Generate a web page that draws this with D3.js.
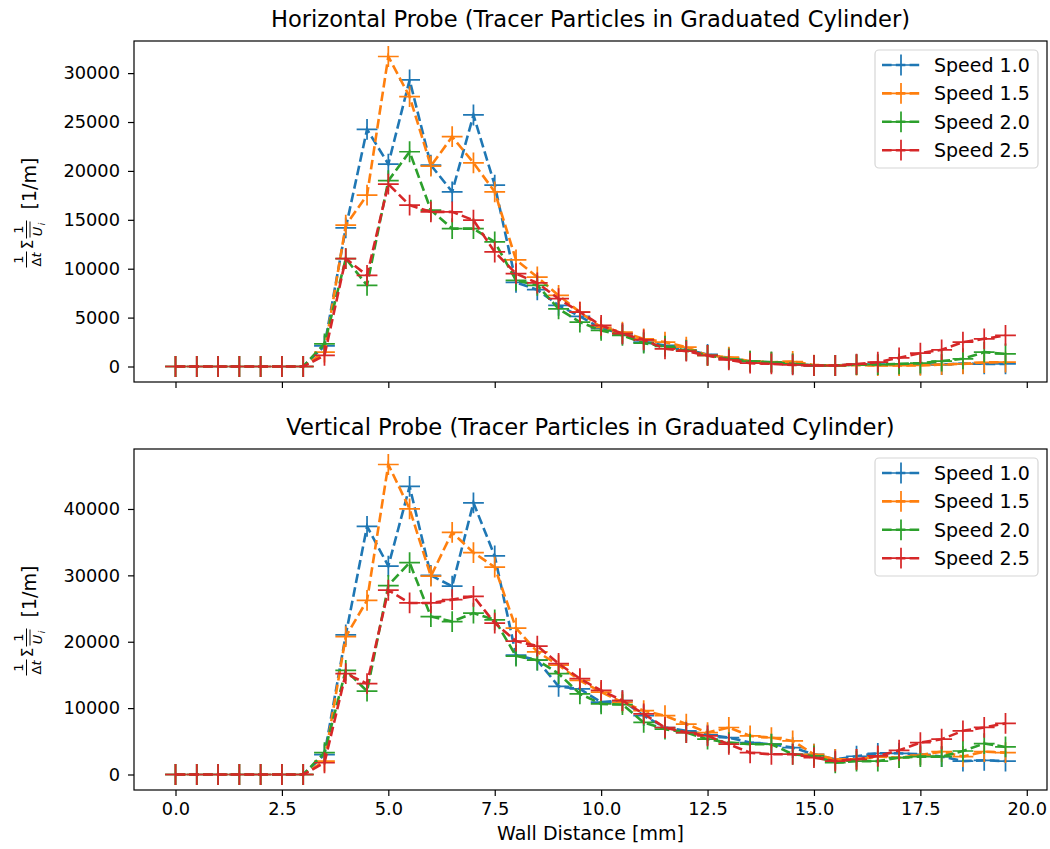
<!DOCTYPE html>
<html>
<head>
<meta charset="utf-8">
<script src="https://cdn.jsdelivr.net/npm/d3@7"></script>
<style>
  body { margin: 0; background: #fff; }
  svg { font-family: "DejaVu Sans", sans-serif; }
</style>
</head>
<body>
<div id="chart"></div>
<script>
// wall distance in mm
const wallDistance = [0, 0.5, 1.0, 1.5, 2.0, 2.5, 3.0, 3.5, 4.0, 4.5, 5.0, 5.5, 6.0, 6.5, 7.0, 7.5,
  8.0, 8.5, 9.0, 9.5, 10.0, 10.5, 11.0, 11.5, 12.0, 12.5, 13.0, 13.5, 14.0, 14.5, 15.0, 15.5,
  16.0, 16.5, 17.0, 17.5, 18.0, 18.5, 19.0, 19.5];

const speedLabels = ['Speed 1.0', 'Speed 1.5', 'Speed 2.0', 'Speed 2.5'];
const speedColors = ['#1f77b4', '#ff7f0e', '#2ca02c', '#d62728'];

// horizontal probe
const horizSpeed10 = [0, 0, 0, 0, 0, 0, 0, 2100, 14170, 24250, 20700, 29300, 20600, 17860, 25720, 18550,
  8600, 7850, 6250, 5130, 3900, 3350, 2500, 2150, 1710, 1230, 880, 510, 440, 270, 100, 100,
  200, 200, 200, 200, 200, 300, 270, 270];
const horizSpeed15 = [0, 0, 0, 0, 0, 0, 0, 1470, 14450, 17520, 31700, 27600, 20500, 23500, 20830, 17860,
  10900, 9150, 7270, 5560, 4000, 3520, 2830, 2490, 1980, 1130, 950, 540, 440, 510, 150, 100,
  150, 100, 100, 120, 200, 270, 410, 440];
const horizSpeed20 = [0, 0, 0, 0, 0, 0, 0, 2320, 11030, 8300, 19000, 21960, 16000, 14100, 14100, 12740,
  8810, 8300, 5900, 4540, 3690, 3180, 2390, 2050, 1640, 1130, 780, 540, 440, 270, 100, 100,
  200, 200, 270, 340, 550, 790, 1470, 1300];
const horizSpeed25 = [0, 0, 0, 0, 0, 0, 0, 1130, 11030, 9320, 18650, 16500, 15810, 15810, 14960, 11710,
  9500, 8540, 6930, 5560, 4200, 3350, 2730, 1810, 1570, 1130, 680, 340, 270, 170, 100, 100,
  250, 440, 890, 1370, 1710, 2490, 2830, 3180];

// vertical probe
const vertSpeed10 = [0, 0, 0, 0, 0, 0, 0, 3000, 21020, 37390, 31400, 43400, 29990, 28360, 40930, 32920,
  17980, 17220, 13270, 12900, 10890, 11140, 8860, 7080, 6580, 5980, 5560, 4810, 4560, 4050, 3050, 2280,
  2750, 3190, 3190, 3040, 2700, 2020, 2130, 2020];
const vertSpeed15 = [0, 0, 0, 0, 0, 0, 0, 2020, 20760, 26230, 46700, 40010, 29880, 36470, 33430, 31250,
  22040, 18480, 16470, 14190, 12410, 10880, 9620, 8860, 7600, 6320, 7080, 5820, 5560, 5060, 3050, 2280,
  2280, 2700, 2530, 2930, 3440, 2700, 3440, 3290];
const vertSpeed20 = [0, 0, 0, 0, 0, 0, 0, 3290, 15700, 12550, 28470, 31920, 23800, 23040, 24320, 23300,
  17850, 17220, 15200, 12160, 10640, 10540, 7840, 6830, 6320, 5320, 4810, 4560, 4560, 3050, 2790, 1770,
  2020, 2020, 2530, 2700, 2700, 3540, 4660, 4150];
const vertSpeed25 = [0, 0, 0, 0, 0, 0, 0, 1770, 15200, 13680, 27760, 25840, 25840, 26340, 26840, 22800,
  20100, 19350, 16720, 14440, 12660, 11140, 9120, 7080, 6320, 5820, 4560, 3280, 3050, 3050, 2530, 2020,
  2280, 2790, 3650, 4810, 5320, 6580, 7090, 7700];

const xTicks = [0, 2.5, 5, 7.5, 10, 12.5, 15, 17.5, 20];
const yTicksHoriz = [0, 5000, 10000, 15000, 20000, 25000, 30000];
const yTicksVert = [0, 10000, 20000, 30000, 40000];

const width = 1050;
const height = 849;
const left = 134;
const right = 1047;
const panelHeight = 341;
const tickFs = 17.8;
const labelFs = 19;
const titleFs = 22.6;

const panels = [
  { title: 'Horizontal Probe (Tracer Particles in Graduated Cylinder)', top: 41,
    series: [horizSpeed10, horizSpeed15, horizSpeed20, horizSpeed25], yTicks: yTicksHoriz, showX: false },
  { title: 'Vertical Probe (Tracer Particles in Graduated Cylinder)', top: 449,
    series: [vertSpeed10, vertSpeed15, vertSpeed20, vertSpeed25], yTicks: yTicksVert, showX: true }
];

const svg = d3.select('#chart')
  .append('svg')
  .attr('width', width)
  .attr('height', height);

const xPad = 0.05 * (d3.max(wallDistance) - d3.min(wallDistance));
const xScale = d3.scaleLinear()
  .domain([d3.min(wallDistance) - xPad, d3.max(wallDistance) + xPad])
  .range([left, right]);

function drawYLabel(cx, cy) {
  const g = svg.append('g')
    .attr('transform', `translate(${cx},${cy}) rotate(-90)`)
    .attr('fill', '#000');
  const s = -56;
  // 1 / Δt
  g.append('text').attr('x', s + 8).attr('y', -6).attr('text-anchor', 'middle')
    .attr('font-size', 13).text('1');
  g.append('line').attr('x1', s).attr('x2', s + 16).attr('y1', -2.5).attr('y2', -2.5)
    .attr('stroke', '#000').attr('stroke-width', 1);
  const d1 = g.append('text').attr('x', s + 8).attr('y', 12).attr('text-anchor', 'middle')
    .attr('font-size', 13);
  d1.append('tspan').text('Δ');
  d1.append('tspan').attr('font-style', 'italic').text('t');
  // sum
  g.append('text').attr('x', s + 23).attr('y', 4).attr('text-anchor', 'middle')
    .attr('font-size', 15).text('Σ');
  // 1 / overline U_i
  g.append('text').attr('x', s + 38).attr('y', -6).attr('text-anchor', 'middle')
    .attr('font-size', 13).text('1');
  g.append('line').attr('x1', s + 29).attr('x2', s + 47).attr('y1', -2.5).attr('y2', -2.5)
    .attr('stroke', '#000').attr('stroke-width', 1);
  g.append('text').attr('x', s + 36).attr('y', 13).attr('text-anchor', 'middle')
    .attr('font-size', 13).attr('font-style', 'italic').text('U');
  g.append('text').attr('x', s + 43.5).attr('y', 16).attr('text-anchor', 'middle')
    .attr('font-size', 9).attr('font-style', 'italic').text('i');
  g.append('line').attr('x1', s + 30).attr('x2', s + 46).attr('y1', 1).attr('y2', 1)
    .attr('stroke', '#000').attr('stroke-width', 0.9);
  g.append('text').attr('x', s + 58).attr('y', 7).attr('font-size', labelFs).text('[1/m]');
}

panels.forEach(p => {
  const bottom = p.top + panelHeight;
  const all = p.series.flat();
  const lo = d3.min(all);
  const hi = d3.max(all);
  const yPad = 0.05 * (hi - lo);
  const yScale = d3.scaleLinear()
    .domain([lo - yPad, hi + yPad])
    .range([bottom, p.top]);

  const g = svg.append('g');

  // axes
  const yAxis = d3.axisLeft(yScale)
    .tickValues(p.yTicks)
    .tickSize(6)
    .tickPadding(8)
    .tickFormat(d3.format('d'));
  const ya = g.append('g')
    .attr('transform', `translate(${left},0)`)
    .call(yAxis);
  ya.select('.domain').remove();
  ya.selectAll('line').attr('stroke', '#000').attr('stroke-width', 1.2);
  ya.selectAll('text').attr('font-size', tickFs).attr('fill', '#000')
    .attr('font-family', '"DejaVu Sans", sans-serif');

  const xAxis = d3.axisBottom(xScale)
    .tickValues(xTicks)
    .tickSize(6)
    .tickPadding(6)
    .tickFormat(p.showX ? d3.format('.1f') : '');
  const xa = g.append('g')
    .attr('transform', `translate(0,${bottom})`)
    .call(xAxis);
  xa.select('.domain').remove();
  xa.selectAll('line').attr('stroke', '#000').attr('stroke-width', 1.2);
  xa.selectAll('text').attr('font-size', tickFs).attr('fill', '#000')
    .attr('font-family', '"DejaVu Sans", sans-serif');

  // clip for data
  const clipId = 'clip' + p.top;
  svg.append('clipPath').attr('id', clipId)
    .append('rect').attr('x', left).attr('y', p.top)
    .attr('width', right - left).attr('height', panelHeight);

  const plot = g.append('g').attr('clip-path', `url(#${clipId})`);
  const line = d3.line()
    .x((d, i) => xScale(wallDistance[i]))
    .y(d => yScale(d));

  p.series.forEach((vals, si) => {
    plot.append('path')
      .datum(vals)
      .attr('d', line)
      .attr('fill', 'none')
      .attr('stroke', speedColors[si])
      .attr('stroke-width', 2.6)
      .attr('stroke-dasharray', '9.6,4.2');
    plot.selectAll(null)
      .data(vals)
      .enter()
      .append('path')
      .attr('transform', (d, i) => `translate(${xScale(wallDistance[i])},${yScale(d)})`)
      .attr('d', 'M-10.4,0H10.4M0,-10.4V10.4')
      .attr('stroke', speedColors[si])
      .attr('stroke-width', 1.74)
      .attr('fill', 'none');
  });

  // frame
  g.append('rect')
    .attr('x', left).attr('y', p.top)
    .attr('width', right - left).attr('height', panelHeight)
    .attr('fill', 'none').attr('stroke', '#000').attr('stroke-width', 1.2);

  // title
  svg.append('text')
    .attr('x', (left + right) / 2)
    .attr('y', p.top - 14)
    .attr('text-anchor', 'middle')
    .attr('font-size', titleFs)
    .text(p.title);

  // y label
  drawYLabel(29, p.top + panelHeight / 2);

  // legend
  const lx = 875, lw = 163, ly = p.top + 9, lh = 118;
  const leg = svg.append('g');
  leg.append('rect')
    .attr('x', lx).attr('y', ly).attr('width', lw).attr('height', lh)
    .attr('rx', 4).attr('fill', '#fff').attr('fill-opacity', 0.8)
    .attr('stroke', '#d6d6d6').attr('stroke-width', 1.2);
  speedLabels.forEach((name, si) => {
    const ey = ly + 15 + si * 28.4;
    leg.append('line')
      .attr('x1', lx + 7).attr('x2', lx + 45).attr('y1', ey).attr('y2', ey)
      .attr('stroke', speedColors[si]).attr('stroke-width', 2.6)
      .attr('stroke-dasharray', '9.6,4.2');
    leg.append('path')
      .attr('transform', `translate(${lx + 26},${ey})`)
      .attr('d', 'M-10.4,0H10.4M0,-10.4V10.4')
      .attr('stroke', speedColors[si]).attr('stroke-width', 1.74);
    leg.append('text')
      .attr('x', lx + 59).attr('y', ey + 6.8)
      .attr('font-size', labelFs)
      .text(name);
  });
});

svg.append('text')
  .attr('x', (left + right) / 2)
  .attr('y', 840)
  .attr('text-anchor', 'middle')
  .attr('font-size', labelFs)
  .text('Wall Distance [mm]');
</script>
</body>
</html>
